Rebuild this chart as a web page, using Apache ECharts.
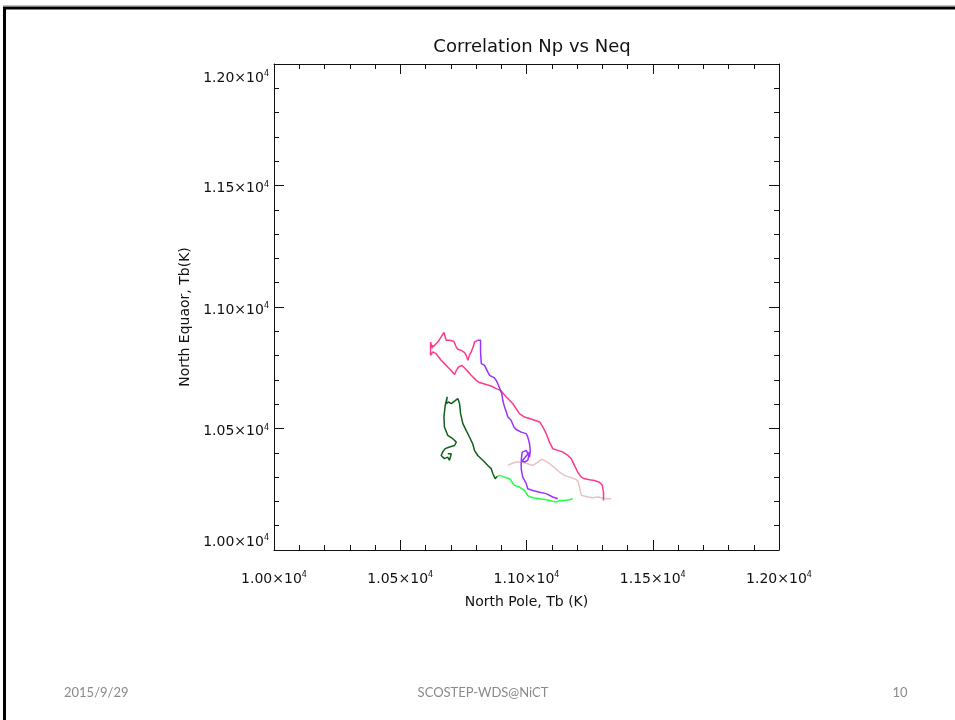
<!DOCTYPE html>
<html>
<head>
<meta charset="utf-8">
<script src="https://cdn.jsdelivr.net/npm/echarts@6/dist/echarts.min.js"></script>
<style>html,body{margin:0;padding:0;background:#fff;}#chart{width:955px;height:720px;}</style>
</head>
<body>
<div id="chart"></div>
<script>
// ---- data (x = North Pole Tb, y = North Equator Tb, Kelvin) ----
const pinkPath = [
  [11305,10204],[11305,10238],[11300,10266],[11289,10279],[11269,10286],[11250,10289],[11230,10293],
  [11217,10300],[11203,10320],[11190,10348],[11177,10376],[11164,10389],[11144,10403],[11124,10410],
  [11104,10417],[11091,10444],[11078,10479],[11065,10506],[11052,10527],[11032,10534],[11012,10541],
  [10992,10547],[10972,10561],[10946,10602],[10920,10630],[10897,10657],[10880,10664],[10860,10675],
  [10840,10681],[10827,10685],[10814,10689],[10801,10698],[10781,10719],[10768,10735],[10755,10749],
  [10744,10760],[10731,10753],[10722,10739],[10715,10722],[10702,10739],[10688,10753],[10675,10767],
  [10662,10781],[10652,10794],[10642,10808],[10629,10815],[10620,10801],[10620,10855],[10628,10830],
  [10621,10845],[10632,10838],[10636,10835],[10649,10856],[10662,10877],[10673,10895],[10682,10863],
  [10695,10863],[10702,10867],[10712,10859],[10722,10835],[10728,10826],[10741,10822],[10755,10812],
  [10761,10801],[10768,10781],[10774,10801],[10781,10815],[10787,10822],[10791,10842],[10794,10856],
  [10801,10849],[10807,10863]
];
const purplePath = [
  [10807,10863],[10814,10870],[10818,10863],[10818,10815],[10821,10767],[10834,10760],[10840,10753],
  [10847,10732],[10854,10719],[10860,10712],[10873,10708],[10880,10698],[10886,10685],[10893,10678],
  [10897,10657],[10902,10644],[10906,10616],[10913,10588],[10920,10568],[10926,10547],[10933,10551],
  [10939,10534],[10946,10527],[10950,10506],[10959,10496],[10966,10492],[10979,10485],[10999,10479],
  [11005,10465],[11012,10437],[11015,10410],[11012,10382],[10999,10410],[10983,10403],[10979,10369],
  [10992,10362],[11005,10369],[11012,10402],[11003,10392],[10979,10362],[10979,10335],[10985,10300],
  [10999,10273],[11005,10252],[11025,10245],[11052,10238],[11078,10232],[11104,10218],[11124,10211]
];
const greenPath = [
  [11183,10211],[11170,10207],[11150,10204],[11131,10204],[11118,10197],[11078,10207],[11052,10211],
  [11025,10215],[11005,10224],[10992,10245],[10972,10259],[10952,10266],[10933,10293],[10913,10300],
  [10893,10307],[10884,10303]
];
const darkGreenPath = [
  [10884,10303],[10876,10293],[10867,10314],[10860,10335],[10847,10348],[10827,10369],[10807,10389],
  [10794,10410],[10787,10437],[10774,10465],[10761,10492],[10748,10520],[10739,10561],[10735,10602],
  [10728,10623],[10722,10616],[10702,10602],[10691,10609],[10682,10602],[10686,10630],[10678,10595],
  [10673,10547],[10675,10506],[10688,10472],[10708,10458],[10722,10444],[10715,10430],[10695,10424],
  [10678,10417],[10668,10403],[10662,10389],[10675,10376],[10688,10382],[10695,10369],[10702,10396],
  [10688,10396]
];
const lightPinkPath = [
  [10926,10348],[10939,10355],[10959,10362],[10979,10362],[11005,10355],[11025,10348],[11045,10362],
  [11058,10372],[11071,10369],[11091,10355],[11111,10339],[11131,10320],[11150,10307],[11170,10300],
  [11190,10293],[11203,10286],[11210,10259],[11217,10225],[11223,10218],[11243,10218],[11263,10215],
  [11282,10218],[11296,10215],[11316,10211],[11336,10211]
];
const tickMantissas = ['1.00×10','1.05×10','1.10×10','1.15×10','1.20×10'];
const tickExponent = '4';
const axisMin = 10000, axisMax = 12000, axisStep = 500;

const FONT = 'DejaVu Sans';
const rich = {
  a: {fontFamily: FONT, fontSize: 14, color: '#111', lineHeight: 16},
  s: {fontFamily: FONT, fontSize: 8, color: '#111', lineHeight: 10, verticalAlign: 'top'}
};
const fmt = (v, i) => '{a|' + tickMantissas[i] + '}{s|' + tickExponent + '}';
const frame = {show: true, onZero: false, lineStyle: {color: '#111', width: 1}};
const ticks = {show: true, inside: true, length: 10, lineStyle: {color: '#111', width: 1}};
const minor = {show: true, splitNumber: 5, length: 5, lineStyle: {color: '#111', width: 1}};
const base = {type: 'value', min: axisMin, max: axisMax, interval: axisStep,
  axisLine: frame, axisTick: ticks, minorTick: minor, splitLine: {show: false}, minorSplitLine: {show: false}};

const chart = echarts.init(document.getElementById('chart'), null, {renderer: 'canvas'});
const mk = (name, data, color) => ({name, type: 'line', data, xAxisIndex: 0, yAxisIndex: 0,
  showSymbol: false, symbol: 'none', lineStyle: {color, width: 1.5}, itemStyle: {color}, z: 3});

chart.setOption({
  animation: false,
  backgroundColor: '#fff',
  title: {text: 'Correlation Np vs Neq', left: 527, top: 33, textAlign: 'center',
    textStyle: {fontFamily: FONT, fontSize: 18, fontWeight: 'normal', color: '#111'}},
  grid: {left: 274, top: 64, width: 505, height: 486, containLabel: false},
  xAxis: [
    Object.assign({}, base, {position: 'bottom', name: 'North Pole, Tb (K)', nameLocation: 'middle', nameGap: 45,
      nameTextStyle: {fontFamily: FONT, fontSize: 14, color: '#111'},
      axisLabel: {show: true, margin: 21, formatter: fmt, rich}}),
    Object.assign({}, base, {position: 'top', axisLabel: {show: false}})
  ],
  yAxis: [
    Object.assign({}, base, {position: 'left', name: 'North Equaor, Tb(K)', nameLocation: 'middle', nameGap: 80,
      nameRotate: 90, nameTextStyle: {fontFamily: FONT, fontSize: 14, color: '#111', padding: [0, 20, 0, 0]},
      axisLabel: {show: true, margin: 5, formatter: fmt, rich, padding: [6, 0, 0, 0],
        verticalAlignMinLabel: 'bottom', verticalAlignMaxLabel: 'top'}}),
    Object.assign({}, base, {position: 'right', axisLabel: {show: false}})
  ],
  series: [
    mk('lightpink', lightPinkPath, '#e6c3c3'),
    mk('pink', pinkPath, '#ff3a8c'),
    mk('purple', purplePath, '#9933ff'),
    mk('green', greenPath, '#22ff44'),
    mk('darkgreen', darkGreenPath, '#11601a')
  ],
  graphic: [
    {type: 'line', shape: {x1: 3, y1: 5.5, x2: 955, y2: 5.5}, style: {stroke: '#bbb', lineWidth: 1}, silent: true},
    {type: 'line', shape: {x1: 3, y1: 8, x2: 955, y2: 8}, style: {stroke: '#000', lineWidth: 3}, silent: true},
    {type: 'line', shape: {x1: 4.5, y1: 7, x2: 4.5, y2: 720}, style: {stroke: '#000', lineWidth: 3}, silent: true},
    {type: 'text', left: 64, top: 686, style: {text: '2015/9/29', font: '13px Lato', fill: '#8a8a8a'}, silent: true},
    {type: 'text', x: 483, y: 693, style: {text: 'SCOSTEP-WDS@NiCT', font: '13px Lato', fill: '#8a8a8a', align: 'center', verticalAlign: 'middle'}, silent: true},
    {type: 'text', x: 900, y: 693, style: {text: '10', font: '13px Lato', fill: '#8a8a8a', align: 'center', verticalAlign: 'middle'}, silent: true}
  ]
});
</script>
</body>
</html>
